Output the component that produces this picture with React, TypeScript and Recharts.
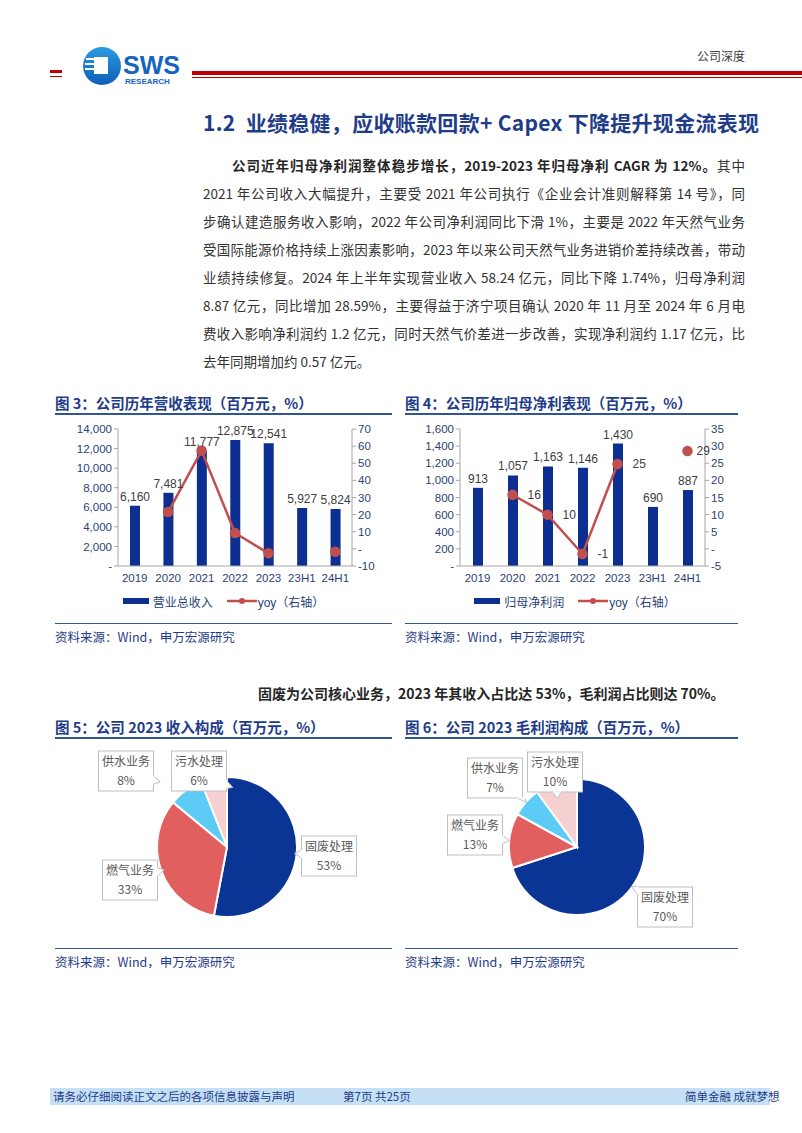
import React from "react";
import {
  ComposedChart,
  Bar,
  Line,
  XAxis,
  YAxis,
  Legend,
  LabelList,
  PieChart,
  Pie,
  Cell,
} from "recharts";

// ---- data ----
const periods = ["2019", "2020", "2021", "2022", "2023", "23H1", "24H1"];
const revenue = [6160, 7481, 11777, 12875, 12541, 5927, 5824];
const revenueYoy = [null, 21.5, 57.4, 9.3, -2.6, null, -1.7];
const profit = [913, 1057, 1163, 1146, 1430, 690, 887];
const profitYoy = [null, 15.8, 10.0, -1.5, 24.8, null, 28.6];

const revTicks = [0, 2000, 4000, 6000, 8000, 10000, 12000, 14000];
const revYoyTicks = [-10, 0, 10, 20, 30, 40, 50, 60, 70];
const profitTicks = [0, 200, 400, 600, 800, 1000, 1200, 1400, 1600];
const profitYoyTicks = [-5, 0, 5, 10, 15, 20, 25, 30, 35];

const segments = ["固废处理", "燃气业务", "供水业务", "污水处理"];
const revenueShare = [53, 33, 8, 6];
const grossShare = [70, 13, 7, 10];

const revenueRows = periods.map((p, i) => ({ p, v: revenue[i], yoy: revenueYoy[i] }));
const profitRows = periods.map((p, i) => ({ p, v: profit[i], yoy: profitYoy[i] }));
const revPie = segments.map((name, i) => ({ name, value: revenueShare[i] }));
const grossPie = segments.map((name, i) => ({ name, value: grossShare[i] }));

// ---- styles ----
const BLUE = "#0d2f91";
const RED = "#c0504d";
const NAVY = "#1f3c88";
const TICK = "#2a3f74";
const SLICE_COLORS = ["#0a3595", "#e25f5f", "#5ccbf5", "#f6d0d0"];
const CJK = '"Noto Sans CJK SC", sans-serif';
const MIX = '"Liberation Sans", "Noto Sans CJK SC", sans-serif';

// callout box offsets from pie centre (label placement only)
const revLabelPos = [
  [102, 9],
  [-97, 33],
  [-101, -76],
  [-28, -76],
];
const grossLabelPos = [
  [88, 60],
  [-102, -12],
  [-82, -69],
  [-22, -75],
];

const dash = (v: number) => (v === 0 ? "-" : v.toLocaleString("en-US"));

function ChartLegend({ barName }: { barName: string }) {
  return (
    <div
      style={{
        display: "flex",
        justifyContent: "center",
        alignItems: "center",
        height: 22,
        fontSize: 12,
        color: TICK,
        fontFamily: MIX,
      }}
    >
      <span style={{ display: "inline-block", width: 26, height: 6, background: BLUE, marginRight: 4 }} />
      <span style={{ marginRight: 14 }}>{barName}</span>
      <svg width={30} height={10} style={{ marginRight: 1 }}>
        <line x1={0} y1={5} x2={30} y2={5} stroke={RED} strokeWidth={2.5} />
        <circle cx={15} cy={5} r={3} fill={RED} />
      </svg>
      <span>yoy（右轴）</span>
    </div>
  );
}

function YoyLabel(props: any) {
  const { x, y, value, index } = props;
  if (value == null) return null;
  const gap = index === periods.length - 1 ? 9 : 15;
  return (
    <text x={x + gap} y={y + 4} fontSize={12} fill="#404040" fontFamily={MIX}>
      {Math.round(Number(value))}
    </text>
  );
}

function ComboChart({
  rows,
  barName,
  leftTicks,
  rightTicks,
  width,
  leftW,
  marginRight,
  showLineLabels,
}: any) {
  return (
    <ComposedChart
      width={width}
      height={198}
      data={rows}
      margin={{ top: 11, right: marginRight, bottom: 4, left: 0 }}
    >
      <XAxis
        dataKey="p"
        height={24}
        tickLine={false}
        axisLine={{ stroke: "#a6a6a6" }}
        tick={{ fontSize: 11.5, fill: TICK, fontFamily: MIX }}
        interval={0}
      />
      <YAxis
        yAxisId="l"
        width={leftW}
        domain={[leftTicks[0], leftTicks[leftTicks.length - 1]]}
        ticks={leftTicks}
        tickFormatter={dash}
        axisLine={{ stroke: "#a6a6a6" }}
        tickLine={{ stroke: "#a6a6a6" }}
        tickSize={4}
        tick={{ fontSize: 11.5, fill: TICK, fontFamily: MIX }}
        interval={0}
      />
      <YAxis
        yAxisId="r"
        orientation="right"
        width={40}
        domain={[rightTicks[0], rightTicks[rightTicks.length - 1]]}
        ticks={rightTicks}
        tickFormatter={dash}
        axisLine={{ stroke: "#a6a6a6" }}
        tickLine={{ stroke: "#a6a6a6" }}
        tickSize={4}
        tick={{ fontSize: 11.5, fill: TICK, fontFamily: MIX }}
        interval={0}
      />
      <Legend verticalAlign="bottom" content={() => <ChartLegend barName={barName} />} />
      <Bar yAxisId="l" dataKey="v" fill={BLUE} barSize={10} isAnimationActive={false}>
        <LabelList
          dataKey="v"
          position="top"
          offset={5}
          formatter={(v: any) => Number(v).toLocaleString("en-US")}
          style={{ fontSize: 12, fill: "#404040", fontFamily: MIX }}
        />
      </Bar>
      <Line
        yAxisId="r"
        dataKey="yoy"
        stroke={RED}
        strokeWidth={2.5}
        dot={{ r: 4, fill: RED, stroke: RED }}
        connectNulls={false}
        isAnimationActive={false}
      >
        {showLineLabels && <LabelList dataKey="yoy" content={YoyLabel} />}
      </Line>
    </ComposedChart>
  );
}

function makeCallout(pos: number[][]) {
  return (props: any) => {
    const { cx, cy, midAngle, outerRadius, index, name, value } = props;
    const [dx, dy] = pos[index];
    const bx = cx + dx;
    const by = cy + dy;
    const w = 55;
    const h = 40;
    const rad = (Math.PI / 180) * midAngle;
    const px = cx + outerRadius * Math.cos(rad);
    const py = cy - outerRadius * Math.sin(rad);
    // small wedge from box edge toward slice
    const vx = px - bx;
    const vy = py - by;
    const s = Math.min(w / 2 / Math.abs(vx || 1e-6), h / 2 / Math.abs(vy || 1e-6));
    const ex = bx + vx * s;
    const ey = by + vy * s;
    const len = Math.hypot(vx, vy) || 1;
    const tx = ex + (vx / len) * 7;
    const ty = ey + (vy / len) * 7;
    const horiz = Math.abs(vx) * (h / 2) > Math.abs(vy) * (w / 2);
    const a1 = horiz ? [ex, ey - 4] : [ex - 4, ey];
    const a2 = horiz ? [ex, ey + 4] : [ex + 4, ey];
    return (
      <g>
        <rect x={bx - w / 2} y={by - h / 2} width={w} height={h} fill="#fff" stroke="#bfbfbf" />
        <polygon
          points={`${a1[0]},${a1[1]} ${tx},${ty} ${a2[0]},${a2[1]}`}
          fill="#fff"
          stroke="#bfbfbf"
        />
        <line x1={a1[0]} y1={a1[1]} x2={a2[0]} y2={a2[1]} stroke="#fff" strokeWidth={1.5} />
        <text x={bx} y={by - 5} textAnchor="middle" fontSize={12} fill="#595959" fontFamily={CJK}>
          {name}
        </text>
        <text x={bx} y={by + 14} textAnchor="middle" fontSize={12} fill="#595959" fontFamily={CJK}>
          {value}%
        </text>
      </g>
    );
  };
}

function SharePie({ data, r, pos }: any) {
  return (
    <PieChart width={345} height={195}>
      <Pie
        data={data}
        dataKey="value"
        nameKey="name"
        cx={167}
        cy={97}
        outerRadius={r}
        startAngle={90}
        endAngle={-270}
        stroke="#fff"
        strokeWidth={2}
        label={makeCallout(pos)}
        labelLine={false}
        isAnimationActive={false}
      >
        {data.map((_: any, i: number) => (
          <Cell key={i} fill={SLICE_COLORS[i]} />
        ))}
      </Pie>
    </PieChart>
  );
}

const abs = (left: number, top: number, extra: React.CSSProperties = {}): React.CSSProperties => ({
  position: "absolute",
  left,
  top,
  ...extra,
});

function FigTitle({ x, y, w, text }: { x: number; y: number; w: number; text: string }) {
  return (
    <>
      <div style={abs(x, y - 10, { fontSize: 14.5, fontWeight: 700, color: NAVY, fontFamily: CJK, whiteSpace: "nowrap", lineHeight: "20px" })}>
        {text}
      </div>
      <div style={abs(x, y + 10, { width: w, height: 1.5, background: "#2f5597" })} />
    </>
  );
}

function Source({ x, y, w }: { x: number; y: number; w: number }) {
  return (
    <>
      <div style={abs(x, y - 14, { width: w, height: 1, background: "#2f5597" })} />
      <div style={abs(x, y - 9, { fontSize: 12.5, color: NAVY, fontFamily: CJK, whiteSpace: "nowrap", lineHeight: "18px" })}>
        资料来源：Wind，申万宏源研究
      </div>
    </>
  );
}

const paraLines: React.ReactNode[] = [
  <>
    <b style={{ color: "#262626" }}>公司近年归母净利润整体稳步增长，2019-2023 年归母净利 CAGR 为 12%。</b>其中
  </>,
  "2021 年公司收入大幅提升，主要受 2021 年公司执行《企业会计准则解释第 14 号》，同",
  "步确认建造服务收入影响，2022 年公司净利润同比下滑 1%，主要是 2022 年天然气业务",
  "受国际能源价格持续上涨因素影响，2023 年以来公司天然气业务进销价差持续改善，带动",
  "业绩持续修复。2024 年上半年实现营业收入 58.24 亿元，同比下降 1.74%，归母净利润",
  "8.87 亿元，同比增加 28.59%，主要得益于济宁项目确认 2020 年 11 月至 2024 年 6 月电",
  "费收入影响净利润约 1.2 亿元，同时天然气价差进一步改善，实现净利润约 1.17 亿元，比",
  "去年同期增加约 0.57 亿元。",
];

export default function App() {
  return (
    <div style={{ position: "absolute", left: 0, top: 0, width: 802, height: 1133, background: "#fff", overflow: "hidden", fontFamily: CJK }}>
      {/* header */}
      <div style={abs(50, 70, { width: 12, height: 3, background: "#c00000" })} />
      <div style={abs(50, 76, { width: 12, height: 1, background: "#c00000" })} />
      <svg style={abs(82, 45)} width={110} height={44}>
        <defs>
          <linearGradient id="lg" x1="0" y1="0" x2="0" y2="1">
            <stop offset="0" stopColor="#2a9be0" />
            <stop offset="1" stopColor="#0d5fb8" />
          </linearGradient>
        </defs>
        <circle cx={20} cy={21} r={19} fill="url(#lg)" />
        <rect x={12} y={12} width={14} height={17} fill="#fff" />
        <rect x={4} y={13} width={8} height={2} fill="#fff" />
        <rect x={3} y={18} width={9} height={2} fill="#fff" />
        <rect x={3} y={23} width={9} height={2} fill="#fff" />
        <text x={41} y={29} fontSize={25} fontWeight={700} fill="#1565c0" fontFamily='"Liberation Sans", sans-serif'>
          SWS
        </text>
        <text x={43} y={39} fontSize={8} fontWeight={700} fill="#1565c0" fontFamily='"Liberation Sans", sans-serif'>
          RESEARCH
        </text>
      </svg>
      <div style={abs(192, 71, { width: 610, height: 4, background: "#c00000" })} />
      <div style={abs(192, 77, { width: 610, height: 1, background: "#c00000" })} />
      <div style={abs(697, 48, { fontSize: 12, color: "#404040", lineHeight: "16px" })}>公司深度</div>

      {/* section heading */}
      <div style={abs(203, 108, { fontSize: 21, fontWeight: 700, color: NAVY, whiteSpace: "nowrap", lineHeight: "28px", letterSpacing: 0.3 })}>
        1.2&nbsp;&nbsp;业绩稳健，应收账款回款+ Capex 下降提升现金流表现
      </div>

      {/* paragraph */}
      {paraLines.map((ln, i) => (
        <div
          key={i}
          style={abs(i === 0 ? 232 : 203, 151 + i * 28, {
            width: i === 0 ? 513 : 542,
            fontSize: 13.5,
            lineHeight: "28px",
            color: "#333",
            whiteSpace: "nowrap",
            textAlign: "justify",
            textAlignLast: i === paraLines.length - 1 ? "left" : "justify",
          })}
        >
          {ln}
        </div>
      ))}

      {/* figure 3 & 4 */}
      <FigTitle x={55} y={403} w={337} text="图 3：公司历年营收表现（百万元，%）" />
      <FigTitle x={405} y={403} w={333} text="图 4：公司历年归母净利表现（百万元，%）" />
      <div style={abs(55, 418)}>
        <ComboChart
          rows={revenueRows}
          barName="营业总收入"
          leftTicks={revTicks}
          rightTicks={revYoyTicks}
          width={345}
          leftW={63}
          marginRight={8}
          showLineLabels={false}
        />
      </div>
      <div style={abs(405, 418)}>
        <ComboChart
          rows={profitRows}
          barName="归母净利润"
          leftTicks={profitTicks}
          rightTicks={profitYoyTicks}
          width={355}
          leftW={55}
          marginRight={15}
          showLineLabels={true}
        />
      </div>
      <Source x={55} y={637} w={337} />
      <Source x={405} y={637} w={333} />

      {/* statement */}
      <div style={abs(258, 683, { fontSize: 14, fontWeight: 700, color: "#262626", whiteSpace: "nowrap", lineHeight: "20px" })}>
        固废为公司核心业务，2023 年其收入占比达 53%，毛利润占比则达 70%。
      </div>

      {/* figure 5 & 6 */}
      <FigTitle x={55} y={727} w={337} text="图 5：公司 2023 收入构成（百万元，%）" />
      <FigTitle x={405} y={727} w={333} text="图 6：公司 2023 毛利润构成（百万元，%）" />
      <div style={abs(55, 745)}>
        <SharePie data={revPie} r={70} pos={revLabelPos} />
      </div>
      <div style={abs(405, 745)}>
        <SharePie data={grossPie} r={68} pos={grossLabelPos} />
      </div>
      <Source x={55} y={962} w={337} />
      <Source x={405} y={962} w={333} />

      {/* footer */}
      <div style={abs(50, 1088, { width: 720, height: 17, background: "#c5e0f5" })} />
      <div style={abs(53, 1088, { fontSize: 11.5, color: NAVY, lineHeight: "17px", whiteSpace: "nowrap" })}>
        请务必仔细阅读正文之后的各项信息披露与声明
      </div>
      <div style={abs(343, 1088, { fontSize: 11.5, color: NAVY, lineHeight: "17px", whiteSpace: "nowrap" })}>
        第7页 共25页
      </div>
      <div style={abs(685, 1088, { fontSize: 11.5, color: NAVY, lineHeight: "17px", whiteSpace: "nowrap" })}>
        简单金融 成就梦想
      </div>
    </div>
  );
}
